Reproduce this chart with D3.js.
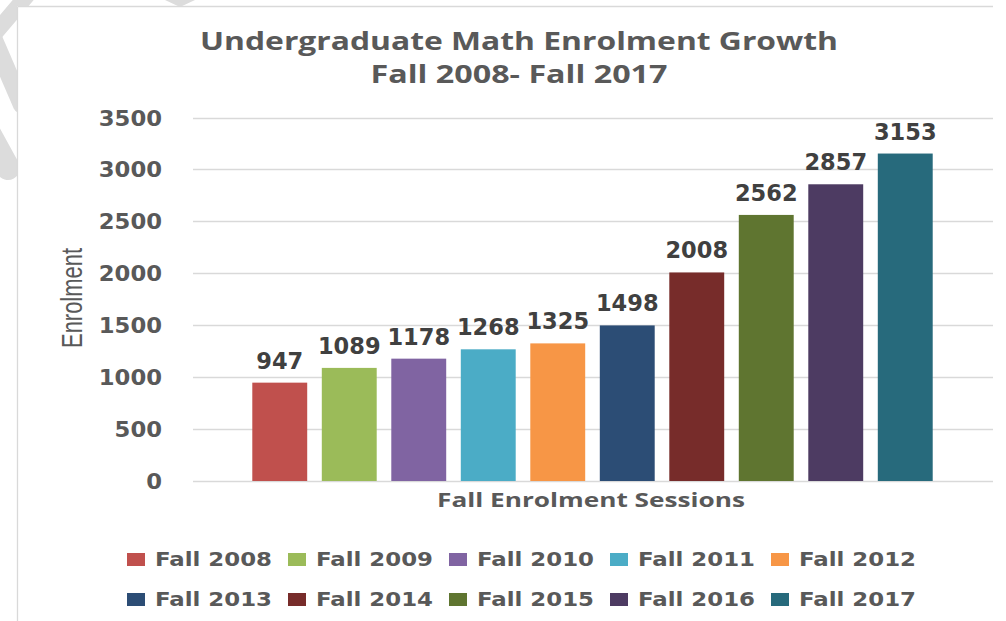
<!DOCTYPE html>
<html>
<head>
<meta charset="utf-8">
<script src="https://cdn.jsdelivr.net/npm/d3@7"></script>
<style>
  html, body { margin: 0; padding: 0; background: #ffffff; }
  svg { display: block; }
</style>
</head>
<body>
<svg id="chart" width="1006" height="621"></svg>
<script>
// ---- data ----
const categories = ["Fall 2008","Fall 2009","Fall 2010","Fall 2011","Fall 2012","Fall 2013","Fall 2014","Fall 2015","Fall 2016","Fall 2017"];
const enrolment = [947, 1089, 1178, 1268, 1325, 1498, 2008, 2562, 2857, 3153];
const colors = ["#c0504d","#9bbb59","#8064a2","#4bacc6","#f79646","#2c4d75","#772c2a","#5f7530","#4d3b62","#276a7c"];
const yTicks = [0, 500, 1000, 1500, 2000, 2500, 3000, 3500];
const titleLines = ["Undergraduate Math Enrolment Growth", "Fall 2008- Fall 2017"];
const yTitle = "Enrolment";
const xTitle = "Fall Enrolment Sessions";

const svg = d3.select("#chart");

// ---- background watermark fragments (behind chart frame) ----
const wm = svg.append("g").attr("stroke", "#dcdcdc").attr("fill", "none").attr("stroke-linecap", "round");
wm.append("line").attr("x1", 30).attr("y1", -8).attr("x2", -4).attr("y2", 32).attr("stroke-width", 16);
wm.append("line").attr("x1", -6).attr("y1", 40).attr("x2", 22).attr("y2", 105).attr("stroke-width", 18);
wm.append("line").attr("x1", -14).attr("y1", 128).attr("x2", 8).attr("y2", 168).attr("stroke-width", 24);
svg.append("path").attr("d", "M165,0 L195,0 L180,7 Z").attr("fill", "#dcdcdc");

// ---- chart frame ----
svg.append("rect").attr("x", 17).attr("y", 6).attr("width", 1000).attr("height", 640).attr("fill", "#ffffff");
svg.append("line").attr("x1", 17.5).attr("y1", 6.5).attr("x2", 993).attr("y2", 6.5).attr("stroke", "#d9d9d9").attr("stroke-width", 1.3);
svg.append("line").attr("x1", 17.5).attr("y1", 6.5).attr("x2", 17.5).attr("y2", 621).attr("stroke", "#d9d9d9").attr("stroke-width", 1.3);

// ---- scales ----
const y = d3.scaleLinear().domain([0, 3500]).range([481, 117.5]);
const x = d3.scaleBand().domain(categories).range([245, 940]).paddingInner(0.21).paddingOuter(0.105);
const gridX0 = 193, gridX1 = 993;

// ---- gridlines ----
svg.append("g").selectAll("line").data(yTicks).join("line")
  .attr("x1", gridX0).attr("x2", gridX1)
  .attr("y1", d => Math.round(y(d)) + 0.5).attr("y2", d => Math.round(y(d)) + 0.5)
  .attr("stroke", "#d9d9d9").attr("stroke-width", 1.4);

// ---- y axis (labels only) ----
const yAxis = d3.axisLeft(y).tickValues(yTicks).tickSize(0).tickPadding(0).tickFormat(d3.format("d"));
const yg = svg.append("g").attr("transform", "translate(162,0)").call(yAxis);
yg.select(".domain").remove();
yg.selectAll("text")
  .attr("font-family", "DejaVu Sans").attr("font-weight", "bold").attr("font-size", 21)
  .attr("fill", "#595959").attr("dy", "0.36em")
  .attr("textLength", d => String(d).length * 15.8).attr("lengthAdjust", "spacingAndGlyphs");

// ---- bars ----
svg.append("g").selectAll("rect").data(categories).join("rect")
  .attr("x", d => x(d)).attr("width", x.bandwidth())
  .attr("y", (d, i) => y(enrolment[i])).attr("height", (d, i) => y(0) - y(enrolment[i]))
  .attr("fill", (d, i) => colors[i]);

// ---- data labels ----
svg.append("g").selectAll("text").data(categories).join("text")
  .attr("x", d => x(d) + x.bandwidth() / 2)
  .attr("y", (d, i) => y(enrolment[i]) - 14)
  .attr("text-anchor", "middle")
  .attr("font-family", "DejaVu Sans").attr("font-weight", "bold").attr("font-size", 22.5)
  .attr("fill", "#404040")
  .text((d, i) => enrolment[i]);

// ---- title ----
const tLens = [638, 297];
svg.append("g").selectAll("text").data(titleLines).join("text")
  .attr("x", 519).attr("y", (d, i) => 50 + i * 33)
  .attr("text-anchor", "middle")
  .attr("font-family", "Open Sans").attr("font-weight", "bold").attr("font-size", 25)
  .attr("fill", "#595959")
  .attr("textLength", (d, i) => tLens[i]).attr("lengthAdjust", "spacingAndGlyphs")
  .text(d => d);

// ---- axis titles ----
svg.append("text")
  .attr("transform", "translate(82,298) rotate(-90)")
  .attr("text-anchor", "middle")
  .attr("font-family", "Liberation Sans").attr("font-size", 29)
  .attr("fill", "#595959")
  .attr("textLength", 100).attr("lengthAdjust", "spacingAndGlyphs")
  .text(yTitle);

svg.append("text")
  .attr("x", 591).attr("y", 507)
  .attr("text-anchor", "middle")
  .attr("font-family", "Open Sans").attr("font-weight", "bold").attr("font-size", 20)
  .attr("fill", "#595959")
  .attr("textLength", 308).attr("lengthAdjust", "spacingAndGlyphs")
  .text(xTitle);

// ---- legend ----
const legend = svg.append("g");
const items = legend.selectAll("g").data(categories).join("g")
  .attr("transform", (d, i) => `translate(${127 + (i % 5) * 161},${i < 5 ? 566 : 606})`);
items.append("rect").attr("x", 0).attr("y", -13).attr("width", 18).attr("height", 13)
  .attr("fill", (d, i) => colors[i]);
items.append("text").attr("x", 28).attr("y", 0)
  .attr("font-family", "DejaVu Sans").attr("font-weight", "bold").attr("font-size", 19)
  .attr("fill", "#595959")
  .attr("textLength", 117).attr("lengthAdjust", "spacingAndGlyphs")
  .text(d => d);
</script>
</body>
</html>
